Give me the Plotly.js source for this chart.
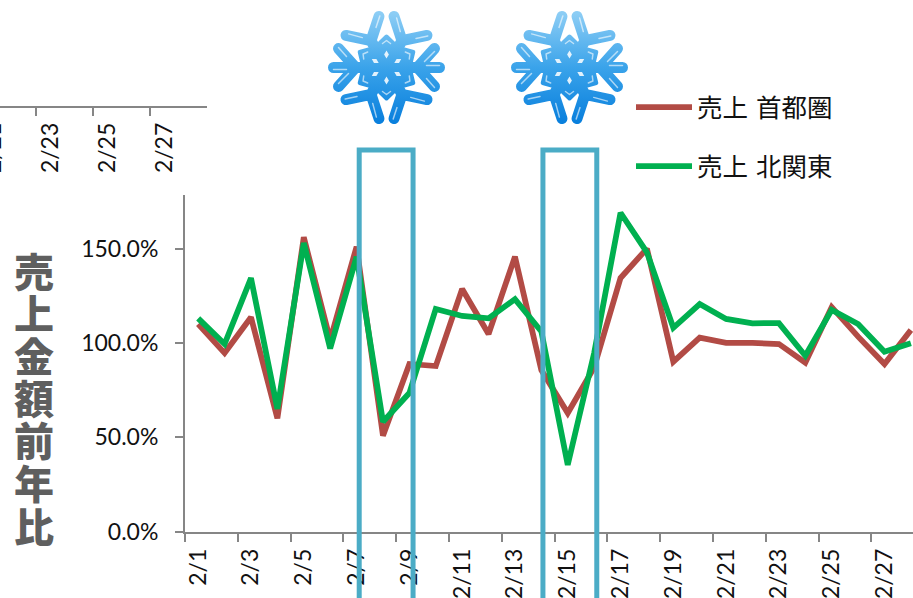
<!DOCTYPE html>
<html>
<head>
<meta charset="utf-8">
<script src="https://cdn.plot.ly/plotly-3.0.1.min.js"></script>
<style>
  html, body { margin: 0; padding: 0; width: 913px; height: 598px; overflow: hidden; background: #fff; }
  #chart { position: absolute; left: -40px; top: 0; width: 953px; height: 650px; }
</style>
</head>
<body>
<div id="chart"></div>
<script>
// Daily sales, year-on-year (%) for February
const dates = ['2/1','2/2','2/3','2/4','2/5','2/6','2/7','2/8','2/9','2/10','2/11','2/12','2/13','2/14',
               '2/15','2/16','2/17','2/18','2/19','2/20','2/21','2/22','2/23','2/24','2/25','2/26','2/27','2/28'];
const shutoken = [110,94.6,113.6,60,156,101.5,151,50.8,88.8,87.7,128.6,104.7,145.7,85.6,
                  62.8,87,134.4,150,90,102.8,100,100,99.4,89.5,119,103.3,88.8,106.8];
const kitakanto = [113,99.4,134.3,65,153,97,145.7,58.2,73.4,118,114.3,113,123.2,106,
                   35.3,94.6,169,148,108,120.6,112.7,110.4,110.5,93.2,117.5,110,95.3,99.8];
const yTicks = [0,50,100,150];
const yTickLabels = ['0.0%','50.0%','100.0%','150.0%'];
const yTitleChars = ['売','上','金','額','前','年','比'];
const snowSpans = [[6.1,8.14],[13.06,15.1]];

const W = 953, H = 650, OFFSET = 40;
const fx = x => (x + OFFSET) / W;
const fy = y => 1 - y / H;

const AXIS = '#868686', BLUE = '#4BACC6';
const LATIN = 'Lato, "Noto Sans", sans-serif';
const CJK = '"DejaVu Sans", "Noto Sans CJK JP", sans-serif';

// Snowflake glyph: six rotated arms plus a star-shaped hub, stroked with one vertical gradient
function snowflakeSvg() {
  const c = 60;
  const pt = (along, perp, deg) => {
    const a = deg * Math.PI / 180;
    return (c + along * Math.cos(a) - perp * Math.sin(a)).toFixed(1) + ' ' +
           (c + along * Math.sin(a) + perp * Math.cos(a)).toFixed(1);
  };
  let arms = '', gleam = '', hub = '';
  [0,60,120,180,240,300].forEach(d => {
    const horizontal = d % 180 === 0;
    arms += `M${pt(0,0,d)}L${pt(horizontal ? 53 : 33,0,d)}`;
    arms += `M${pt(31,0,d)}L${pt(48,19,d)}M${pt(31,0,d)}L${pt(48,-19,d)}`;
    gleam += `M${pt(40,11,d)}L${pt(48,20,d)}M${pt(38,-6,d)}L${pt(48,-16,d)}`;
    if (horizontal) gleam += `M${pt(40,-2,d)}L${pt(53,-2,d)}`;
    gleam += `M${pt(24,-4,d+30)}L${pt(27,0,d+30)}L${pt(24,4,d+30)}`;
  });
  for (let i = 0; i < 12; i++) {
    hub += (i ? 'L' : 'M') + pt(i % 2 ? 23 : 31, 0, 90 + i * 30);
  }
  let seeds = '';
  [30,90,150,210,270,330].forEach(d => {
    seeds += `M${pt(9,0,d)}L${pt(13,2.4,d)}L${pt(17,0,d)}L${pt(13,-2.4,d)}Z`;
  });
  const svg = `<svg xmlns="http://www.w3.org/2000/svg" width="240" height="240" viewBox="0 0 120 120">
    <defs><linearGradient id="g" gradientUnits="userSpaceOnUse" x1="0" y1="6" x2="0" y2="114">
      <stop offset="0" stop-color="#8ccdf5"/><stop offset="0.5" stop-color="#3aa3ea"/><stop offset="1" stop-color="#0a80dd"/>
    </linearGradient></defs>
    <path d="${hub}Z" fill="url(#g)" stroke="url(#g)" stroke-width="4" stroke-linejoin="round"/>
    <path d="${arms}" fill="none" stroke="url(#g)" stroke-width="11" stroke-linecap="round"/>
    <path d="${gleam}" fill="none" stroke="#fff" stroke-opacity="0.6" stroke-width="1.5" stroke-linecap="round" stroke-linejoin="round"/>
    <path d="${seeds}" fill="#fff" fill-opacity="0.85"/>
  </svg>`;
  return 'data:image/svg+xml;charset=utf-8,' + encodeURIComponent(svg);
}

const flake = snowflakeSvg();
const flakeAt = cx => ({
  source: flake, xref: 'paper', yref: 'paper', xanchor: 'center', yanchor: 'middle',
  x: fx(cx), y: fy(67.5), sizex: 120 / W, sizey: 120 / H, sizing: 'stretch', layer: 'above'
});

const traces = [
  { x: dates, y: shutoken, name: '売上 首都圏', mode: 'lines', legendgroup: 'a',
    line: { color: '#B24B45', width: 5.75, simplify: false } },
  { x: dates, y: kitakanto, name: '売上 北関東', mode: 'lines', legendgroup: 'b',
    line: { color: '#00B050', width: 5.75, simplify: false } },
  // Empty companion series that carries the partly visible upper date axis
  { x: dates, y: dates.map(() => null), xaxis: 'x2', yaxis: 'y2', mode: 'lines',
    showlegend: false, hoverinfo: 'skip' }
];

const dateAxis = {
  type: 'category', categoryorder: 'array', categoryarray: dates,
  tickson: 'boundaries', dtick: 2, tickangle: -90, ticks: 'outside', ticklen: 8, tickwidth: 2,
  tickcolor: AXIS, showline: true, linecolor: AXIS, linewidth: 2, showgrid: false, zeroline: false,
  tickfont: { family: LATIN, size: 23, color: '#111' }, ticklabelstandoff: 6, ticklabelshift: 1.5
};

const layout = {
  width: W, height: H, autosize: false,
  margin: { l: 0, r: 0, t: 0, b: 0 },
  paper_bgcolor: '#fff', plot_bgcolor: '#fff',
  showlegend: true,
  legend: {
    x: fx(631), y: fy(84), xanchor: 'left', yanchor: 'top', bgcolor: 'rgba(0,0,0,0)',
    itemwidth: 56, tracegroupgap: 23, traceorder: 'grouped',
    font: { family: CJK, size: 25.5, color: '#111' }
  },
  xaxis: Object.assign({}, dateAxis, {
    domain: [fx(185), 1], range: [-0.5, 27.08], anchor: 'y'
  }),
  yaxis: {
    domain: [fy(531.5), fy(195)], range: [0, 178.4], anchor: 'x',
    tickvals: yTicks, ticktext: yTickLabels, ticks: 'outside', ticklen: 8, tickwidth: 2,
    tickcolor: AXIS, showline: true, linecolor: AXIS, linewidth: 2, showgrid: false, zeroline: false,
    tickfont: { family: LATIN, size: 23, color: '#111' }, ticklabelstandoff: 12
  },
  xaxis2: Object.assign({}, dateAxis, {
    domain: [0, fx(207)], range: [18.83, 27.5], anchor: 'y2'
  }),
  yaxis2: { domain: [fy(105.5), 1], range: [0, 1], anchor: 'x2', visible: false },
  shapes: snowSpans.map(s => ({
    type: 'rect', xref: 'x', yref: 'paper', layer: 'above',
    x0: s[0], x1: s[1], y0: fy(640), y1: fy(150),
    line: { color: BLUE, width: 5 }, fillcolor: 'rgba(0,0,0,0)'
  })),
  images: [flakeAt(386.5), flakeAt(569.5)],
  annotations: yTitleChars.map((ch, i) => ({
    text: ch, xref: 'paper', yref: 'paper', x: fx(34), y: fy(269.5 + i * 42.5),
    xanchor: 'center', yanchor: 'middle', showarrow: false,
    font: { family: '"Noto Sans CJK JP", sans-serif', size: 40, color: '#5F5F5F', weight: 900 }
  }))
};

Plotly.newPlot('chart', traces, layout, { displayModeBar: false, staticPlot: true });
</script>
</body>
</html>
